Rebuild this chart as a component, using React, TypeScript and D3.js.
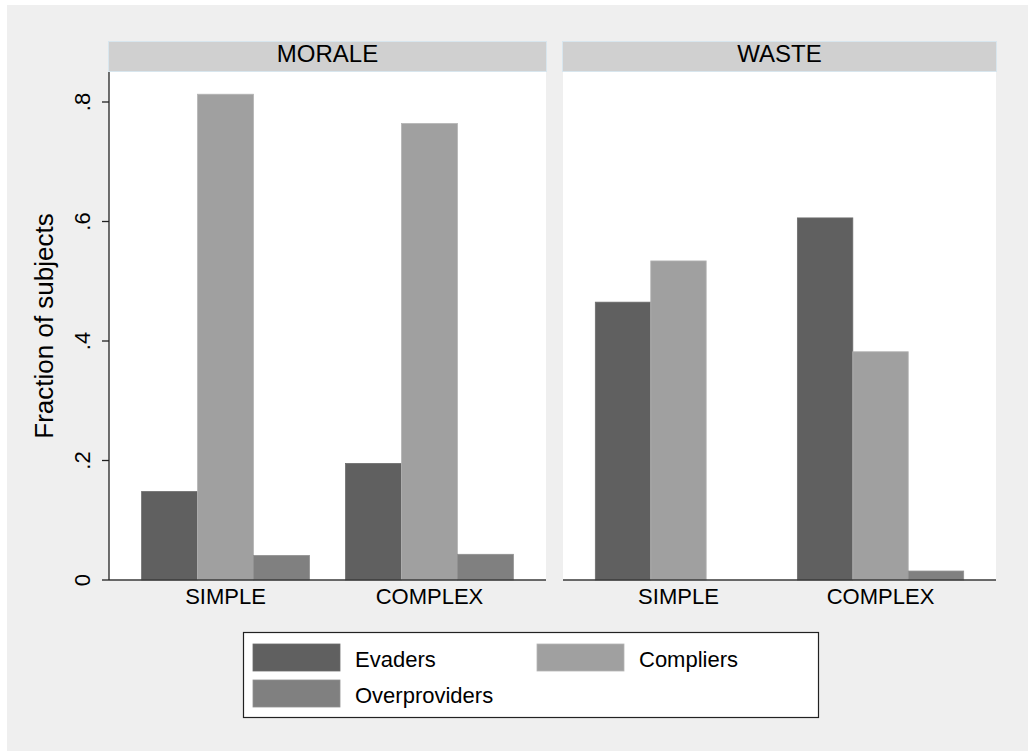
import { useEffect, useRef } from "react";
import * as d3 from "d3";

const panels = ["MORALE", "WASTE"];
const categories = ["SIMPLE", "COMPLEX"];
const seriesNames = ["Evaders", "Compliers", "Overproviders"];
// order: MORALE-SIMPLE, MORALE-COMPLEX, WASTE-SIMPLE, WASTE-COMPLEX
const evaders = [0.148, 0.195, 0.465, 0.606];
const compliers = [0.813, 0.764, 0.534, 0.382];
const overproviders = [0.041, 0.043, 0, 0.015];
const yTicks = [0, 0.2, 0.4, 0.6, 0.8];
const yTickLabels = ["0", ".2", ".4", ".6", ".8"];

const colors = ["#606060", "#a0a0a0", "#808080"];
const edge = ["#6c6c6c", "#b4b4b4", "#909090"];
const font = "'Liberation Sans', Arial, Helvetica, sans-serif";

export default function App() {
  const svgRef = useRef<SVGSVGElement>(null);

  useEffect(() => {
    if (!svgRef.current) return;
    const svg = d3.select(svgRef.current);
    svg.selectAll("*").remove();

    const W = 1028, H = 751;
    const plotTop = 72, plotBottom = 580;
    const panelX = [[109, 546], [563, 996]];

    svg.append("rect").attr("x", 7).attr("y", 5).attr("width", W - 7).attr("height", H - 5).attr("fill", "#efefef");

    const y = d3.scaleLinear().domain([0, 0.8]).range([plotBottom, 102]);
    const series = [evaders, compliers, overproviders];

    panels.forEach((p, pi) => {
      const [x0, x1] = panelX[pi];
      const g = svg.append("g");

      // strip header
      g.append("rect").attr("x", x0 - 0.5).attr("y", 41.5).attr("width", x1 - x0 + 1).attr("height", 30)
        .attr("fill", "#d0d0d0").attr("stroke", "#d8e6ee").attr("stroke-width", 1);
      g.append("text").attr("x", (x0 + x1) / 2).attr("y", 61.5)
        .attr("text-anchor", "middle").attr("font-family", font).attr("font-size", "24px").attr("fill", "#000")
        .text(p);

      // plot area
      g.append("rect").attr("x", x0).attr("y", plotTop).attr("width", x1 - x0).attr("height", plotBottom - plotTop).attr("fill", "#fff");

      const xb = d3.scaleBand().domain(categories).range([x0, x1]).paddingInner(0.177).paddingOuter(0.16);
      const xs = d3.scaleBand().domain(seriesNames).range([0, xb.bandwidth()]).padding(0);

      categories.forEach((c, ci) => {
        seriesNames.forEach((s, si) => {
          const v = series[si][pi * 2 + ci];
          if (v <= 0) return;
          g.append("rect")
            .attr("x", (xb(c) ?? 0) + (xs(s) ?? 0))
            .attr("y", y(v))
            .attr("width", xs.bandwidth())
            .attr("height", plotBottom - y(v))
            .attr("fill", colors[si])
            .attr("stroke", edge[si]).attr("stroke-width", 0.8);
        });
        g.append("text").attr("x", (xb(c) ?? 0) + xb.bandwidth() / 2).attr("y", 604)
          .attr("text-anchor", "middle").attr("font-family", font).attr("font-size", "22px").attr("fill", "#000")
          .text(c);
      });

      // baseline
      g.append("line").attr("x1", x0).attr("x2", x1).attr("y1", plotBottom).attr("y2", plotBottom)
        .attr("stroke", "#3a3a3a").attr("stroke-width", 1.5);
    });

    // y axis on first panel
    const ax = panelX[0][0];
    svg.append("line").attr("x1", ax).attr("x2", ax).attr("y1", plotTop).attr("y2", plotBottom)
      .attr("stroke", "#222").attr("stroke-width", 1.3);
    yTicks.forEach((t, i) => {
      svg.append("line").attr("x1", ax - 7).attr("x2", ax).attr("y1", y(t)).attr("y2", y(t))
        .attr("stroke", "#222").attr("stroke-width", 1.3);
      svg.append("text")
        .attr("transform", `translate(89.5,${y(t)}) rotate(-90)`)
        .attr("text-anchor", "middle")
        .attr("font-family", font).attr("font-size", "22px").attr("fill", "#000")
        .text(yTickLabels[i]);
    });
    svg.append("text")
      .attr("transform", `translate(52.5,${(plotTop + plotBottom) / 2}) rotate(-90)`)
      .attr("text-anchor", "middle")
      .attr("font-family", font).attr("font-size", "26px").attr("fill", "#000")
      .text("Fraction of subjects");

    // legend
    const lg = svg.append("g");
    lg.append("rect").attr("x", 243.5).attr("y", 632.5).attr("width", 575).attr("height", 85)
      .attr("fill", "#fff").attr("stroke", "#222").attr("stroke-width", 1.2);
    const legendPos = [[253, 644], [537, 644], [253, 680]];
    seriesNames.forEach((s, i) => {
      const [lx, ly] = legendPos[i];
      lg.append("rect").attr("x", lx).attr("y", ly).attr("width", 87).attr("height", 27)
        .attr("fill", colors[i]).attr("stroke", edge[i]).attr("stroke-width", 0.8);
      lg.append("text").attr("x", lx + 102).attr("y", ly + 23.3)
        .attr("font-family", font).attr("font-size", "22px").attr("fill", "#000")
        .text(s);
    });
  }, []);

  return (
    <svg ref={svgRef} width={1028} height={751}
      style={{ position: "absolute", left: 0, top: 0, display: "block" }} />
  );
}
